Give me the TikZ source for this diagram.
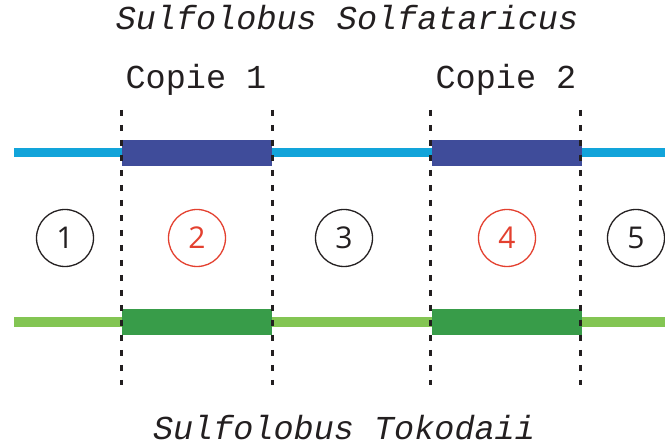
\documentclass[tikz,border=0pt]{standalone}
\usepackage{fontspec}
\setmonofont{Liberation Mono}
\newfontfamily\digitfont{Open Sans}
\begin{document}
\definecolor{skyline}{HTML}{12A4DA}
\definecolor{navyblock}{HTML}{3F4C9A}
\definecolor{leafline}{HTML}{83C553}
\definecolor{forestblock}{HTML}{389C49}
\definecolor{regionred}{HTML}{E3402F}
\definecolor{inkgray}{HTML}{231F20}
\begin{tikzpicture}[x=1pt,y=-1pt,
  species/.style={font=\ttfamily\itshape\fontsize{33.5}{36}\selectfont, text=inkgray, anchor=base, inner sep=0pt},
  copylabel/.style={font=\ttfamily\fontsize{33.5}{36}\selectfont, text=inkgray, anchor=base, inner sep=0pt},
  region/.style={circle, draw=inkgray, line width=1.3pt, minimum size=57pt, inner sep=0pt,
    font=\digitfont\fontsize{30}{32}\selectfont, text=inkgray},
  dupregion/.style={region, draw=regionred, text=regionred},
  genome/.style={line width=9.5pt},
  copyblock/.style={inner sep=0pt, minimum height=25.7pt, minimum width=150pt},
  boundary/.style={line width=3pt, inkgray, dash pattern=on 5.7pt off 9.3pt}
]
\useasboundingbox (0,0) rectangle (665,446);

% genome backbones
\coordinate (bluestart) at (14,152.5);
\coordinate (blueend) at (665,152.5);
\coordinate (greenstart) at (14,322);
\coordinate (greenend) at (665,322);
\draw[genome, skyline] (bluestart) -- (blueend);
\draw[genome, leafline] (greenstart) -- (greenend);

% duplicated copies
\node[copyblock, fill=navyblock] (b1) at (197,152.8) {};
\node[copyblock, fill=navyblock] (b2) at (507,152.8) {};
\node[copyblock, fill=forestblock] (g1) at (197,321.8) {};
\node[copyblock, fill=forestblock] (g2) at (507,321.8) {};

% copy boundaries
\foreach \x/\n in {121.5/a,272/b,430.5/c,580.5/d}{
  \coordinate (top\n) at (\x,110);
  \coordinate (bot\n) at (\x,385);
  \draw[boundary] (top\n) -- (bot\n);
}

% numbered regions
\node[region] (r1) at (65,238) {1};
\node[dupregion] (r2) at (197,238) {2};
\node[region] (r3) at (344,238) {3};
\node[dupregion] (r4) at (507,238) {4};
\node[region] (r5) at (636,238) {5};

% labels
\node[species] (top) at (347,30) {Sulfolobus Solfataricus};
\node[copylabel] (c1) at (196,89) {Copie 1};
\node[copylabel] (c2) at (506,89) {Copie 2};
\node[species] (bottom) at (344,440) {Sulfolobus Tokodaii};
\end{tikzpicture}
\end{document}
